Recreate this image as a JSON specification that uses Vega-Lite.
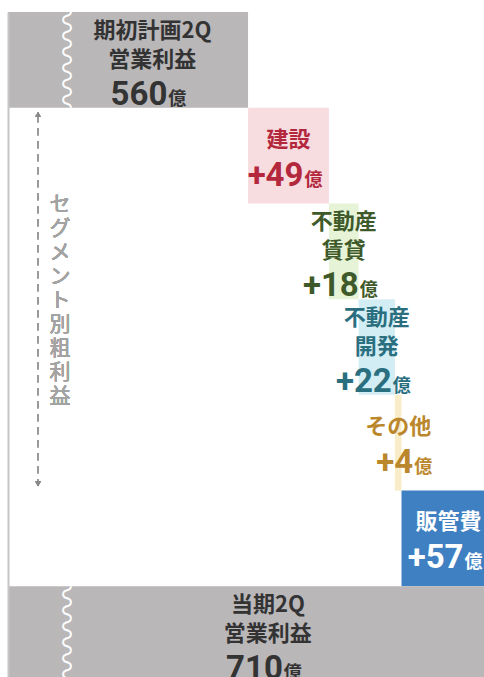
{
  "$schema": "https://vega.github.io/schema/vega-lite/v6.json",
  "width": 476,
  "height": 670,
  "autosize": {"type": "none"},
  "padding": {"top": 12, "left": 8, "right": 0, "bottom": 0},
  "background": "white",
  "config": {"view": {"stroke": null}},
  "data": {"values": [
    {"cat": "期初", "name": ["期初計画2Q", "営業利益"], "amount": 560, "kind": "total"},
    {"cat": "建設", "name": ["建設"], "amount": 49, "kind": "step"},
    {"cat": "賃貸", "name": ["不動産", "賃貸"], "amount": 18, "kind": "step"},
    {"cat": "開発", "name": ["不動産", "開発"], "amount": 22, "kind": "step"},
    {"cat": "その他", "name": ["その他"], "amount": 4, "kind": "step"},
    {"cat": "販管費", "name": ["販管費"], "amount": 57, "kind": "step"},
    {"cat": "当期", "name": ["当期2Q", "営業利益"], "amount": 710, "kind": "total"}
  ]},
  "transform": [
    {"window": [{"op": "sum", "field": "amount", "as": "cum"}]},
    {"calculate": "datum.kind == 'total' ? datum.amount : datum.cum", "as": "end"},
    {"calculate": "datum.kind == 'total' ? 0 : datum.cum - datum.amount", "as": "start"},
    {"calculate": "datum.kind == 'total' ? (444 + min(datum.end, 700)) / 2 : (datum.start + datum.end) / 2", "as": "mid"},
    {"calculate": "datum.kind == 'total' ? '' + datum.amount : '+' + datum.amount", "as": "num"},
    {"calculate": "length(datum.name)", "as": "nl"}
  ],
  "resolve": {"scale": {"y": "independent"}, "axis": {"y": "independent"}},
  "layer": [
    {
      "mark": {"type": "rect", "clip": true},
      "encoding": {
        "y": {"field": "cat", "type": "nominal", "sort": null,
              "scale": {"domain": ["期初", "建設", "賃貸", "開発", "その他", "販管費", "当期"], "paddingInner": 0, "paddingOuter": 0},
              "axis": {"domain": true, "domainColor": "#c6c6c6", "domainWidth": 2, "ticks": false, "labels": false, "title": null, "grid": false}},
        "x": {"field": "start", "type": "quantitative", "scale": {"domain": [414.5, 703], "zero": false, "nice": false}, "axis": null},
        "x2": {"field": "end"},
        "fill": {"field": "cat", "type": "nominal", "legend": null,
                 "scale": {"domain": ["期初", "建設", "賃貸", "開発", "その他", "販管費", "当期"],
                           "range": ["#bab7b9", "#f7dce0", "#e6f3d6", "#d2edf3", "#f9ecc9", "#3f80c3", "#bab7b9"]}}
      }
    },
    {
      "transform": [{"filter": "datum.kind == 'total'"}],
      "mark": {"type": "text", "text": "〰〰〰", "angle": 90, "fontSize": 32, "font": "Noto Sans CJK JP", "color": "white", "align": "center", "baseline": "middle"},
      "encoding": {
        "y": {"field": "cat", "type": "nominal", "sort": null,
              "scale": {"domain": ["期初", "建設", "賃貸", "開発", "その他", "販管費", "当期"], "paddingInner": 0, "paddingOuter": 0}, "axis": null},
        "x": {"datum": 449, "type": "quantitative", "scale": {"domain": [414.5, 703], "zero": false, "nice": false}, "axis": null}
      }
    },
    {
      "mark": {"type": "rule", "color": "#9a9a9a", "strokeWidth": 1.5, "strokeDash": [7, 6]},
      "encoding": {
        "x": {"datum": 432.7, "type": "quantitative", "scale": {"domain": [414.5, 703], "zero": false, "nice": false}, "axis": null},
        "y": {"datum": 1.08, "type": "quantitative", "scale": {"domain": [0, 7], "reverse": true, "zero": false, "nice": false}, "axis": null},
        "y2": {"datum": 4.92}
      }
    },
    {
      "mark": {"type": "point", "shape": "triangle-up", "filled": true, "color": "#8a8a8a", "size": 30, "opacity": 1},
      "encoding": {
        "x": {"datum": 432.7, "type": "quantitative", "scale": {"domain": [414.5, 703], "zero": false, "nice": false}, "axis": null},
        "y": {"datum": 1.07, "type": "quantitative", "scale": {"domain": [0, 7], "reverse": true, "zero": false, "nice": false}, "axis": null}
      }
    },
    {
      "mark": {"type": "point", "shape": "triangle-down", "filled": true, "color": "#8a8a8a", "size": 30, "opacity": 1},
      "encoding": {
        "x": {"datum": 432.7, "type": "quantitative", "scale": {"domain": [414.5, 703], "zero": false, "nice": false}, "axis": null},
        "y": {"datum": 4.93, "type": "quantitative", "scale": {"domain": [0, 7], "reverse": true, "zero": false, "nice": false}, "axis": null}
      }
    },
    {
      "mark": {"type": "text", "text": ["セ", "グ", "メ", "ン", "ト", "別", "粗", "利", "益"], "lineHeight": 24, "fontSize": 21, "font": "Noto Sans CJK JP", "color": "#a3a3a3", "align": "center", "baseline": "middle"},
      "encoding": {
        "x": {"datum": 446, "type": "quantitative", "scale": {"domain": [414.5, 703], "zero": false, "nice": false}, "axis": null},
        "y": {"datum": 2.02, "type": "quantitative", "scale": {"domain": [0, 7], "reverse": true, "zero": false, "nice": false}, "axis": null}
      }
    },
    {
      "transform": [{"filter": "datum.nl == 2"}],
      "mark": {"type": "text", "font": "Noto Sans CJK JP", "fontWeight": "bold", "fontSize": 22, "lineHeight": 29, "align": "center", "baseline": "middle", "dy": -29},
      "encoding": {
        "y": {"field": "cat", "type": "nominal", "sort": null,
              "scale": {"domain": ["期初", "建設", "賃貸", "開発", "その他", "販管費", "当期"], "paddingInner": 0, "paddingOuter": 0}, "axis": null},
        "x": {"field": "mid", "type": "quantitative", "scale": {"domain": [414.5, 703], "zero": false, "nice": false}, "axis": null},
        "text": {"field": "name"},
        "color": {"field": "cat", "type": "nominal", "legend": null,
                  "scale": {"domain": ["期初", "建設", "賃貸", "開発", "その他", "販管費", "当期"],
                            "range": ["#333333", "#b3283d", "#3f5a2a", "#2a6f80", "#bb872c", "#ffffff", "#333333"]}}
      }
    },
    {
      "transform": [{"filter": "datum.nl == 1"}],
      "mark": {"type": "text", "font": "Noto Sans CJK JP", "fontWeight": "bold", "fontSize": 22, "align": "center", "baseline": "middle", "dy": -16},
      "encoding": {
        "y": {"field": "cat", "type": "nominal", "sort": null,
              "scale": {"domain": ["期初", "建設", "賃貸", "開発", "その他", "販管費", "当期"], "paddingInner": 0, "paddingOuter": 0}, "axis": null},
        "x": {"field": "mid", "type": "quantitative", "scale": {"domain": [414.5, 703], "zero": false, "nice": false}, "axis": null},
        "text": {"field": "name"},
        "color": {"field": "cat", "type": "nominal", "legend": null}
      }
    },
    {
      "transform": [{"filter": "datum.nl == 2"}],
      "mark": {"type": "text", "font": "Roboto", "fontWeight": "bold", "fontSize": 33, "align": "right", "baseline": "alphabetic", "dx": 15, "dy": 45},
      "encoding": {
        "y": {"field": "cat", "type": "nominal", "sort": null,
              "scale": {"domain": ["期初", "建設", "賃貸", "開発", "その他", "販管費", "当期"], "paddingInner": 0, "paddingOuter": 0}, "axis": null},
        "x": {"field": "mid", "type": "quantitative", "scale": {"domain": [414.5, 703], "zero": false, "nice": false}, "axis": null},
        "text": {"field": "num"},
        "color": {"field": "cat", "type": "nominal", "legend": null}
      }
    },
    {
      "transform": [{"filter": "datum.nl == 1"}],
      "mark": {"type": "text", "font": "Roboto", "fontWeight": "bold", "fontSize": 33, "align": "right", "baseline": "alphabetic", "dx": 15, "dy": 30},
      "encoding": {
        "y": {"field": "cat", "type": "nominal", "sort": null,
              "scale": {"domain": ["期初", "建設", "賃貸", "開発", "その他", "販管費", "当期"], "paddingInner": 0, "paddingOuter": 0}, "axis": null},
        "x": {"field": "mid", "type": "quantitative", "scale": {"domain": [414.5, 703], "zero": false, "nice": false}, "axis": null},
        "text": {"field": "num"},
        "color": {"field": "cat", "type": "nominal", "legend": null}
      }
    },
    {
      "transform": [{"filter": "datum.nl == 2"}],
      "mark": {"type": "text", "text": "億", "font": "Noto Sans CJK JP", "fontWeight": "bold", "fontSize": 18, "align": "left", "baseline": "alphabetic", "dx": 16, "dy": 45},
      "encoding": {
        "y": {"field": "cat", "type": "nominal", "sort": null,
              "scale": {"domain": ["期初", "建設", "賃貸", "開発", "その他", "販管費", "当期"], "paddingInner": 0, "paddingOuter": 0}, "axis": null},
        "x": {"field": "mid", "type": "quantitative", "scale": {"domain": [414.5, 703], "zero": false, "nice": false}, "axis": null},
        "color": {"field": "cat", "type": "nominal", "legend": null}
      }
    },
    {
      "transform": [{"filter": "datum.nl == 1"}],
      "mark": {"type": "text", "text": "億", "font": "Noto Sans CJK JP", "fontWeight": "bold", "fontSize": 18, "align": "left", "baseline": "alphabetic", "dx": 16, "dy": 30},
      "encoding": {
        "y": {"field": "cat", "type": "nominal", "sort": null,
              "scale": {"domain": ["期初", "建設", "賃貸", "開発", "その他", "販管費", "当期"], "paddingInner": 0, "paddingOuter": 0}, "axis": null},
        "x": {"field": "mid", "type": "quantitative", "scale": {"domain": [414.5, 703], "zero": false, "nice": false}, "axis": null},
        "color": {"field": "cat", "type": "nominal", "legend": null}
      }
    }
  ]
}
